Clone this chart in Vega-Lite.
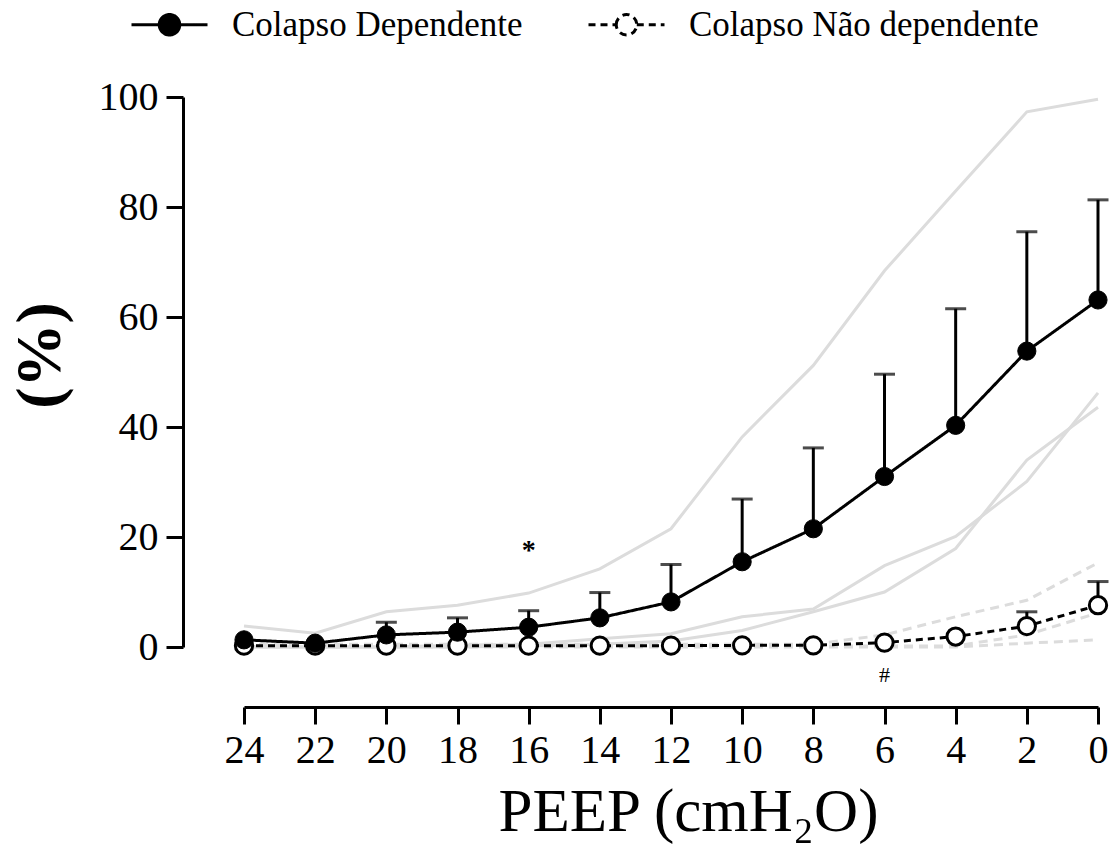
{
  "$schema": "https://vega.github.io/schema/vega-lite/v6.json",
  "width": 854,
  "height": 550,
  "autosize": {"type": "none"},
  "padding": {"left": 244, "top": 97, "right": 14, "bottom": 212},
  "background": "white",
  "config": {"view": {"stroke": null}, "font": "Liberation Serif"},
  "datasets": {
    "ind": [
      {"peep": 24, "subj": "S1", "value": 3.8}, {"peep": 22, "subj": "S1", "value": 2.5}, {"peep": 20, "subj": "S1", "value": 6.4}, {"peep": 18, "subj": "S1", "value": 7.6}, {"peep": 16, "subj": "S1", "value": 9.8}, {"peep": 14, "subj": "S1", "value": 14.2}, {"peep": 12, "subj": "S1", "value": 21.5}, {"peep": 10, "subj": "S1", "value": 38.2}, {"peep": 8, "subj": "S1", "value": 51.2}, {"peep": 6, "subj": "S1", "value": 68.4}, {"peep": 4, "subj": "S1", "value": 82.9}, {"peep": 2, "subj": "S1", "value": 97.3}, {"peep": 0, "subj": "S1", "value": 99.6},
      {"peep": 24, "subj": "S2", "value": 0}, {"peep": 22, "subj": "S2", "value": 0}, {"peep": 20, "subj": "S2", "value": 0}, {"peep": 18, "subj": "S2", "value": 0.3}, {"peep": 16, "subj": "S2", "value": 0.5}, {"peep": 14, "subj": "S2", "value": 1.5}, {"peep": 12, "subj": "S2", "value": 2.4}, {"peep": 10, "subj": "S2", "value": 5.5}, {"peep": 8, "subj": "S2", "value": 6.9}, {"peep": 6, "subj": "S2", "value": 14.8}, {"peep": 4, "subj": "S2", "value": 20.1}, {"peep": 2, "subj": "S2", "value": 30.1}, {"peep": 0, "subj": "S2", "value": 46.2},
      {"peep": 24, "subj": "S3", "value": 0}, {"peep": 22, "subj": "S3", "value": 0}, {"peep": 20, "subj": "S3", "value": 0}, {"peep": 18, "subj": "S3", "value": 0}, {"peep": 16, "subj": "S3", "value": 0.2}, {"peep": 14, "subj": "S3", "value": 0.5}, {"peep": 12, "subj": "S3", "value": 1.1}, {"peep": 10, "subj": "S3", "value": 3.0}, {"peep": 8, "subj": "S3", "value": 6.4}, {"peep": 6, "subj": "S3", "value": 10.0}, {"peep": 4, "subj": "S3", "value": 17.9}, {"peep": 2, "subj": "S3", "value": 34.0}, {"peep": 0, "subj": "S3", "value": 43.6}
    ],
    "indnd": [
      {"peep": 24, "subj": "D1", "value": 0.5}, {"peep": 22, "subj": "D1", "value": 0.5}, {"peep": 20, "subj": "D1", "value": 0.5}, {"peep": 18, "subj": "D1", "value": 0.5}, {"peep": 16, "subj": "D1", "value": 0.5}, {"peep": 14, "subj": "D1", "value": 0.5}, {"peep": 12, "subj": "D1", "value": 0.5}, {"peep": 10, "subj": "D1", "value": 0.5}, {"peep": 8, "subj": "D1", "value": 0.5}, {"peep": 6, "subj": "D1", "value": 2.2}, {"peep": 4, "subj": "D1", "value": 5.5}, {"peep": 2, "subj": "D1", "value": 8.5}, {"peep": 0, "subj": "D1", "value": 15.3},
      {"peep": 24, "subj": "D2", "value": 0.2}, {"peep": 22, "subj": "D2", "value": 0.2}, {"peep": 20, "subj": "D2", "value": 0.2}, {"peep": 18, "subj": "D2", "value": 0.2}, {"peep": 16, "subj": "D2", "value": 0.2}, {"peep": 14, "subj": "D2", "value": 0.2}, {"peep": 12, "subj": "D2", "value": 0.2}, {"peep": 10, "subj": "D2", "value": 0.2}, {"peep": 8, "subj": "D2", "value": 0.2}, {"peep": 6, "subj": "D2", "value": 0.2}, {"peep": 4, "subj": "D2", "value": 0.2}, {"peep": 2, "subj": "D2", "value": 2.2}, {"peep": 0, "subj": "D2", "value": 6.2},
      {"peep": 24, "subj": "D3", "value": 0}, {"peep": 22, "subj": "D3", "value": 0}, {"peep": 20, "subj": "D3", "value": 0}, {"peep": 18, "subj": "D3", "value": 0}, {"peep": 16, "subj": "D3", "value": 0}, {"peep": 14, "subj": "D3", "value": 0}, {"peep": 12, "subj": "D3", "value": 0}, {"peep": 10, "subj": "D3", "value": 0}, {"peep": 8, "subj": "D3", "value": 0}, {"peep": 6, "subj": "D3", "value": 0}, {"peep": 4, "subj": "D3", "value": 0}, {"peep": 2, "subj": "D3", "value": 0.7}, {"peep": 0, "subj": "D3", "value": 1.3}
    ],
    "means": [
      {"peep": 24, "grupo": "Colapso Dependente", "mean": 1.3, "upper": null},
      {"peep": 22, "grupo": "Colapso Dependente", "mean": 0.7, "upper": null},
      {"peep": 20, "grupo": "Colapso Dependente", "mean": 2.2, "upper": 4.5},
      {"peep": 18, "grupo": "Colapso Dependente", "mean": 2.7, "upper": 5.3},
      {"peep": 16, "grupo": "Colapso Dependente", "mean": 3.6, "upper": 6.6},
      {"peep": 14, "grupo": "Colapso Dependente", "mean": 5.3, "upper": 9.9},
      {"peep": 12, "grupo": "Colapso Dependente", "mean": 8.2, "upper": 15.0},
      {"peep": 10, "grupo": "Colapso Dependente", "mean": 15.5, "upper": 26.9},
      {"peep": 8, "grupo": "Colapso Dependente", "mean": 21.5, "upper": 36.2},
      {"peep": 6, "grupo": "Colapso Dependente", "mean": 31.0, "upper": 49.6},
      {"peep": 4, "grupo": "Colapso Dependente", "mean": 40.3, "upper": 61.5},
      {"peep": 2, "grupo": "Colapso Dependente", "mean": 53.8, "upper": 75.5},
      {"peep": 0, "grupo": "Colapso Dependente", "mean": 63.1, "upper": 81.3},
      {"peep": 24, "grupo": "Colapso Não dependente", "mean": 0.25, "upper": null},
      {"peep": 22, "grupo": "Colapso Não dependente", "mean": 0.25, "upper": null},
      {"peep": 20, "grupo": "Colapso Não dependente", "mean": 0.25, "upper": null},
      {"peep": 18, "grupo": "Colapso Não dependente", "mean": 0.25, "upper": null},
      {"peep": 16, "grupo": "Colapso Não dependente", "mean": 0.25, "upper": null},
      {"peep": 14, "grupo": "Colapso Não dependente", "mean": 0.25, "upper": null},
      {"peep": 12, "grupo": "Colapso Não dependente", "mean": 0.25, "upper": null},
      {"peep": 10, "grupo": "Colapso Não dependente", "mean": 0.3, "upper": null},
      {"peep": 8, "grupo": "Colapso Não dependente", "mean": 0.3, "upper": null},
      {"peep": 6, "grupo": "Colapso Não dependente", "mean": 0.8, "upper": null},
      {"peep": 4, "grupo": "Colapso Não dependente", "mean": 1.9, "upper": null},
      {"peep": 2, "grupo": "Colapso Não dependente", "mean": 3.8, "upper": 6.4},
      {"peep": 0, "grupo": "Colapso Não dependente", "mean": 7.6, "upper": 11.9}
    ],
    "notes": [
      {"peep": 16, "y": 16.0, "label": "*"},
      {"peep": 6, "y": -6.3, "label": "#"}
    ]
  },
  "layer": [
    {
      "data": {"name": "ind"},
      "mark": {"type": "line", "color": "#dcdcdc", "strokeWidth": 3},
      "encoding": {
        "x": {
          "field": "peep", "type": "quantitative",
          "scale": {"domain": [0, 24], "reverse": true, "nice": false, "zero": false},
          "axis": {
            "values": [24, 22, 20, 18, 16, 14, 12, 10, 8, 6, 4, 2, 0],
            "offset": 60, "grid": false,
            "domainColor": "black", "domainWidth": 3,
            "tickColor": "black", "tickWidth": 3, "tickSize": 17,
            "labelFont": "Liberation Serif", "labelFontSize": 40, "labelColor": "black", "labelPadding": 6,
            "labelFlush": false,
            "title": "PEEP (cmH₂O)", "titleFont": "Liberation Serif", "titleFontSize": 61,
            "titleFontWeight": "normal", "titleColor": "black", "titlePadding": 12,
            "titleX": 444
          }
        },
        "y": {
          "field": "value", "type": "quantitative",
          "scale": {"domain": [0, 100], "nice": false},
          "axis": {
            "values": [0, 20, 40, 60, 80, 100],
            "offset": 61, "grid": false,
            "domainColor": "black", "domainWidth": 3,
            "tickColor": "black", "tickWidth": 3, "tickSize": 17,
            "labelFont": "Liberation Serif", "labelFontSize": 40, "labelColor": "black", "labelPadding": 8,
            "labelFlush": false,
            "title": "(%)", "titleFont": "Liberation Serif", "titleFontSize": 64,
            "titleFontWeight": "bold", "titleColor": "black", "titlePadding": 26,
            "titleY": 258
          }
        },
        "detail": {"field": "subj"}
      }
    },
    {
      "data": {"name": "indnd"},
      "mark": {"type": "line", "color": "#dcdcdc", "strokeWidth": 3, "strokeDash": [9, 6]},
      "encoding": {
        "x": {"field": "peep", "type": "quantitative"},
        "y": {"field": "value", "type": "quantitative"},
        "detail": {"field": "subj"}
      }
    },
    {
      "data": {"name": "means"},
      "transform": [{"filter": "datum.upper != null"}],
      "mark": {"type": "rule", "color": "black", "strokeWidth": 3},
      "encoding": {
        "x": {"field": "peep", "type": "quantitative"},
        "y": {"field": "mean", "type": "quantitative"},
        "y2": {"field": "upper"}
      }
    },
    {
      "data": {"name": "means"},
      "transform": [{"filter": "datum.upper != null"}],
      "mark": {"type": "tick", "color": "black", "orient": "horizontal", "size": 21, "thickness": 3},
      "encoding": {
        "x": {"field": "peep", "type": "quantitative"},
        "y": {"field": "upper", "type": "quantitative"}
      }
    },
    {
      "data": {"name": "means"},
      "mark": {"type": "line", "color": "black", "strokeWidth": 3},
      "encoding": {
        "x": {"field": "peep", "type": "quantitative"},
        "y": {"field": "mean", "type": "quantitative"},
        "strokeDash": {
          "field": "grupo", "type": "nominal",
          "scale": {"domain": ["Colapso Dependente", "Colapso Não dependente"], "range": [[1, 0], [7, 5]]},
          "legend": {
            "orient": "none", "legendX": -114, "legendY": -112,
            "direction": "horizontal", "columns": 2, "title": null,
            "symbolType": "M-1,0H-0.27M0.27,0H1M-0.27,0A0.27,0.27,0,1,1,0.27,0A0.27,0.27,0,1,1,-0.27,0Z",
            "symbolSize": 5776, "symbolStrokeWidth": 3, "symbolStrokeColor": "black",
            "labelFont": "Liberation Serif", "labelFontSize": 35, "labelColor": "black",
            "labelOffset": 23, "columnPadding": 59, "labelLimit": 0,
            "encode": {
              "symbols": {
                "update": {
                  "fill": {"signal": "datum.value === 'Colapso Dependente' ? 'black' : 'white'"},
                  "stroke": {"value": "black"}
                }
              }
            }
          }
        }
      }
    },
    {
      "data": {"name": "means"},
      "transform": [{"filter": "datum.grupo === 'Colapso Não dependente'"}],
      "mark": {"type": "point", "shape": "circle", "filled": true, "fill": "white", "stroke": "black", "strokeWidth": 3, "size": 300, "opacity": 1},
      "encoding": {
        "x": {"field": "peep", "type": "quantitative"},
        "y": {"field": "mean", "type": "quantitative"}
      }
    },
    {
      "data": {"name": "means"},
      "transform": [{"filter": "datum.grupo === 'Colapso Dependente'"}],
      "mark": {"type": "point", "shape": "circle", "filled": true, "fill": "black", "stroke": "black", "strokeWidth": 1, "size": 330, "opacity": 1},
      "encoding": {
        "x": {"field": "peep", "type": "quantitative"},
        "y": {"field": "mean", "type": "quantitative"}
      }
    },
    {
      "data": {"name": "notes"},
      "transform": [{"filter": "datum.label === '*'"}],
      "mark": {"type": "text", "font": "Liberation Serif", "fontSize": 28, "fontWeight": "bold", "color": "black", "baseline": "alphabetic", "align": "center"},
      "encoding": {
        "x": {"field": "peep", "type": "quantitative"},
        "y": {"field": "y", "type": "quantitative"},
        "text": {"field": "label"}
      }
    },
    {
      "data": {"name": "notes"},
      "transform": [{"filter": "datum.label === '#'"}],
      "mark": {"type": "text", "font": "Liberation Serif", "fontSize": 22, "color": "black", "baseline": "alphabetic", "align": "center"},
      "encoding": {
        "x": {"field": "peep", "type": "quantitative"},
        "y": {"field": "y", "type": "quantitative"},
        "text": {"field": "label"}
      }
    }
  ]
}
